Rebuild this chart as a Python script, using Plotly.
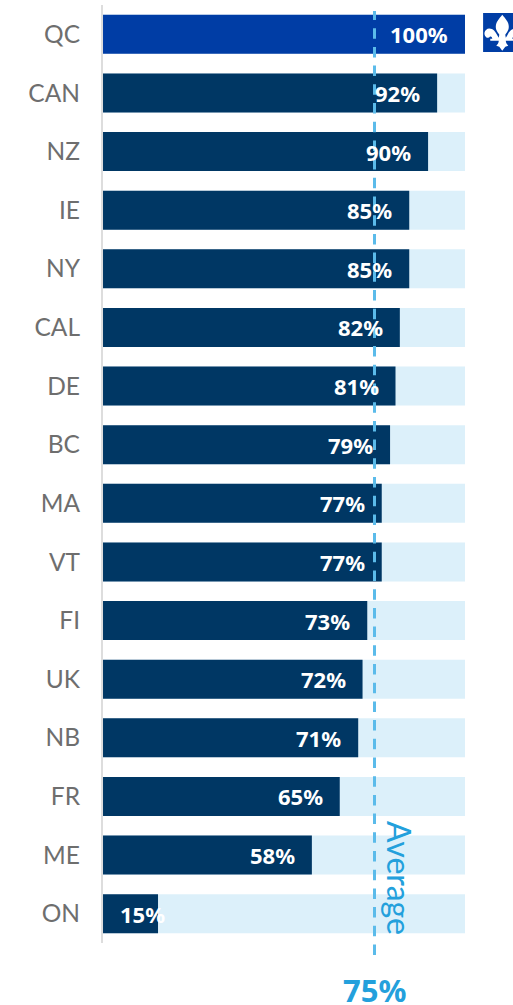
import plotly.graph_objects as go

categories = ["QC","CAN","NZ","IE","NY","CAL","DE","BC","MA","VT","FI","UK","NB","FR","ME","ON"]
values = [100,92.3,89.8,84.6,84.6,82,80.8,79.3,77,77,73,71.7,70.5,65.4,57.7,15.2]
labels = [100,92,90,85,85,82,81,79,77,77,73,72,71,65,58,15]
full_scale = [100]*16
average = 75
label_shift = [-15]*15 + [9]

NAVY = "#003764"
ROYAL = "#003DA5"
PALE = "#DCF0FA"
BLUE = "#23A0DC"

fig = go.Figure()
fig.add_bar(y=categories, x=full_scale, orientation="h", marker=dict(color=PALE, line_width=0), hoverinfo="skip")
fig.add_bar(y=categories, x=values, orientation="h",
            marker=dict(color=[ROYAL if c == "QC" else NAVY for c in categories], line_width=0))

annotations = [
    dict(x=v, y=c, xref="x", yref="y", text=f"{l}%", showarrow=False, xanchor="right", xshift=s,
         font=dict(family="Noto Sans", size=22, color="white", weight="bold"))
    for c, v, l, s in zip(categories, values, labels, label_shift)
]
annotations += [
    dict(x=average, y=0.007, xref="x", yref="paper", xshift=25, text="Average", textangle=90, showarrow=False,
         yanchor="bottom", font=dict(family="Lato", size=32, color=BLUE)),
    dict(x=average, y=-0.0745, xref="x", yref="paper", text=f"{average}%", showarrow=False,
         font=dict(family="Noto Sans", size=31, color=BLUE, weight="bold")),
]
# Fleur-de-lis in pixel offsets from its centre (y up)
fleur = ("M 0 18 C -3 14 -6.5 11 -6.5 6 C -6.5 2 -4 0 -3 -2 L -3.5 -5 "
         "C -5 -3 -6 0 -8 2 C -10 4 -14 5 -16 3 C -18.5 1 -18.5 -3 -15.5 -5 "
         "C -14.5 -5.5 -13 -5 -12.5 -4 C -11 -3 -10 -5 -10 -6 L -12 -6 L -12 -8 L -3.5 -8 "
         "C -3.5 -10 -5 -12 -6 -13 L -3 -14 L 0 -18 L 3 -14 L 6 -13 "
         "C 5 -12 3.5 -10 3.5 -8 L 12 -8 L 12 -6 L 10 -6 C 10 -5 11 -3 12.5 -4 "
         "C 13 -5 14.5 -5.5 15.5 -5 C 18.5 -3 18.5 1 16 3 C 14 5 10 4 8 2 "
         "C 6 0 5 -3 3.5 -5 L 3 -2 C 4 0 6.5 2 6.5 6 C 6.5 11 3 14 0 18 Z")
shapes = [
    dict(type="line", xref="x", yref="paper", x0=average, x1=average, y0=-0.0128, y1=0.9936,
         line=dict(color="#5BBBEA", width=3, dash="10.5px,8.2px")),
    dict(type="line", xref="paper", yref="paper", x0=-0.0024, x1=-0.0024, y0=0, y1=1,
         line=dict(color="#DDDDDD", width=2)),
    dict(type="rect", xref="x", yref="paper", x0=105, x1=113.26, y0=0.950, y1=0.9915,
         fillcolor=ROYAL, line_width=0),
    dict(type="path", xref="x", yref="paper", xsizemode="pixel", ysizemode="pixel",
         xanchor=110.3, yanchor=0.9705, path=fleur, fillcolor="white", line_width=0),
]

fig.update_layout(
    width=513, height=1005, barmode="overlay", bargap=0.335, showlegend=False,
    paper_bgcolor="white", plot_bgcolor="white",
    margin=dict(l=103, r=0, t=5, b=62, pad=0),
    xaxis=dict(range=[0, 113.26], visible=False, fixedrange=True),
    yaxis=dict(autorange="reversed", showline=False, ticks="", showgrid=False, zeroline=False,
               ticklabelstandoff=22, tickfont=dict(family="Lato", size=24.5, color="#6E6E6E")),
    annotations=annotations, shapes=shapes,
)
fig.write_html("out.html", config=dict(displayModeBar=False),
               post_script="document.body.style.margin='0';document.body.style.overflow='hidden';")
